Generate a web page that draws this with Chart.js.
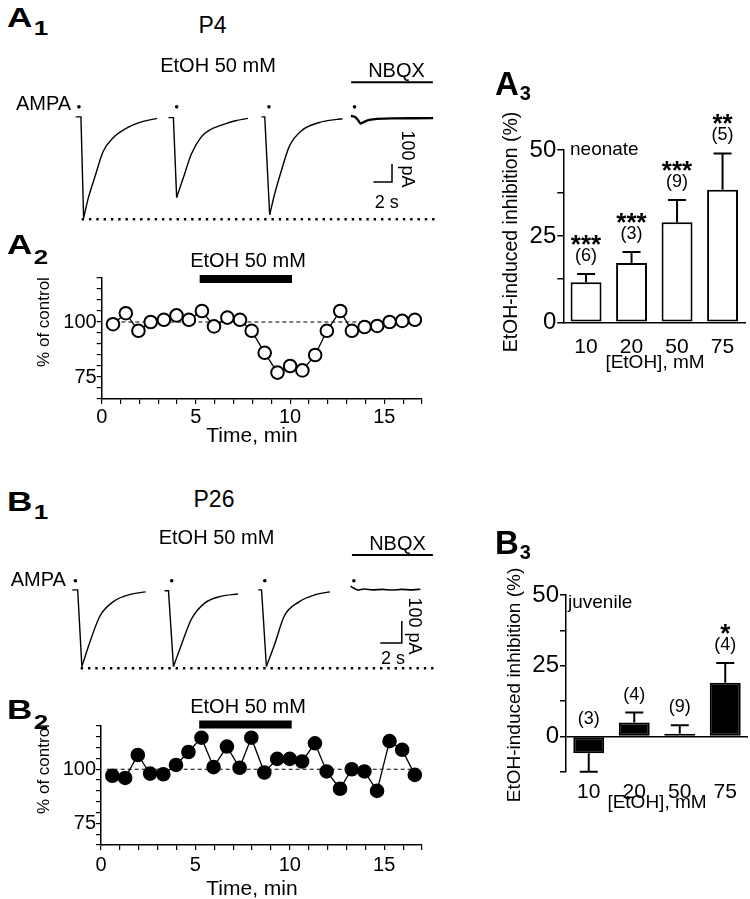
<!DOCTYPE html>
<html><head><meta charset="utf-8">
<script src="https://cdn.jsdelivr.net/npm/chart.js@4/dist/chart.umd.min.js"></script>
<style>
html,body{margin:0;padding:0;background:#fff;}
#page{position:relative;width:750px;height:899px;overflow:hidden;background:#fff;font-family:"Liberation Sans",Arial,Helvetica,sans-serif;color:#000;}
canvas{position:absolute;}
.t{position:absolute;white-space:nowrap;line-height:1;transform:translate(-50%,-50%);}
.pl{position:absolute;font-weight:bold;font-size:27px;line-height:1;white-space:nowrap;transform-origin:0 0;}
.pl sub{font-size:20px;vertical-align:baseline;position:relative;margin-left:1px;}
</style></head>
<body><div id="page">
<canvas id="cA1" width="385" height="195" style="left:60px;top:40px"></canvas>
<canvas id="cB1" width="385" height="150" style="left:60px;top:530px"></canvas>
<canvas id="cA2" width="402" height="180" style="left:30px;top:258px"></canvas>
<canvas id="cB2" width="402" height="193" style="left:30px;top:706px"></canvas>
<canvas id="cA3" width="280" height="290" style="left:470px;top:90px"></canvas>
<canvas id="cB3" width="280" height="290" style="left:470px;top:535px"></canvas>

<div class="pl" style="left:7px;top:4.5px;transform:scaleX(1.3)">A<sub style="top:8px">1</sub></div>
<div class="t" style="left:212.5px;top:25px;font-size:23px">P4</div>
<div class="t" style="left:218px;top:65px;font-size:20px">EtOH 50 mM</div>
<div class="t" style="left:43.5px;top:102.5px;font-size:20px">AMPA</div>
<div class="t" style="left:396.5px;top:70px;font-size:20px">NBQX</div>
<div class="t" style="left:408px;top:159px;font-size:18px;transform:translate(-50%,-50%) rotate(90deg)">100 pA</div>
<div class="t" style="left:386.7px;top:201.7px;font-size:18px">2 s</div>

<div class="pl" style="left:7px;top:488.5px;transform:scaleX(1.3)">B<sub style="top:8px">1</sub></div>
<div class="t" style="left:214px;top:499px;font-size:23px">P26</div>
<div class="t" style="left:216.5px;top:537px;font-size:20px">EtOH 50 mM</div>
<div class="t" style="left:38.3px;top:579px;font-size:20px">AMPA</div>
<div class="t" style="left:397.5px;top:543px;font-size:20px">NBQX</div>
<div class="t" style="left:415px;top:626px;font-size:18px;transform:translate(-50%,-50%) rotate(90deg)">100 pA</div>
<div class="t" style="left:393px;top:658px;font-size:18px">2 s</div>

<div class="pl" style="left:7px;top:231.5px;transform:scaleX(1.3)">A<sub style="top:10px">2</sub></div>
<div class="t" style="left:248px;top:260px;font-size:20px">EtOH 50 mM</div>
<div class="t" style="left:42.5px;top:322px;font-size:17px;transform:translate(-50%,-50%) rotate(-90deg)">% of control</div>
<div class="t" style="left:252px;top:434px;font-size:21px">Time, min</div>

<div class="pl" style="left:7px;top:697px;transform:scaleX(1.3)">B<sub style="top:10px">2</sub></div>
<div class="t" style="left:248px;top:706px;font-size:20px">EtOH 50 mM</div>
<div class="t" style="left:42.5px;top:769px;font-size:17px;transform:translate(-50%,-50%) rotate(-90deg)">% of control</div>
<div class="t" style="left:252px;top:887px;font-size:21px">Time, min</div>

<div class="pl" style="left:495px;top:67px;font-size:33px">A<sub style="top:5px">3</sub></div>
<div class="t" style="left:511px;top:232px;font-size:19.5px;transform:translate(-50%,-50%) rotate(-90deg)">EtOH-induced inhibition (%)</div>
<div class="t" style="left:570px;top:147.5px;font-size:19px;transform:translate(0,-50%)">neonate</div>
<div class="t" style="left:655px;top:361px;font-size:19px">[EtOH], mM</div>

<div class="pl" style="left:495px;top:526px;font-size:33px">B<sub style="top:5px">3</sub></div>
<div class="t" style="left:512.5px;top:685px;font-size:19px;transform:translate(-50%,-50%) rotate(-90deg)">EtOH-induced inhibition (%)</div>
<div class="t" style="left:568px;top:601px;font-size:19px;transform:translate(0,-50%)">juvenile</div>
<div class="t" style="left:657px;top:801px;font-size:19px">[EtOH], mM</div>
</div>
<script>
// ---------- data ----------
// A1 (P4) current sweeps: [time s, current pA]
const a1Sweep1 = [[1.26,0],[1.82,0],[2.11,-553],[2.63,-442],[3.34,-326],[4.21,-190],[5.26,-116],[7.05,-53],[8.42,-26],[10.0,-8]];
const a1Sweep2 = [[11.23,-4],[11.76,-4],[12.11,-442],[12.81,-337],[13.68,-205],[14.74,-111],[15.79,-68],[16.84,-47],[18.42,-21],[19.79,-8]];
const a1Sweep3 = [[21.23,0],[21.58,0],[22.11,-537],[22.63,-426],[23.34,-300],[24.21,-163],[25.58,-74],[27.37,-32],[29.65,-12],[29.95,-11]];
const a1Nbqx   = [[30.84,5],[31.26,0],[31.58,-16],[31.89,-37],[32.32,-26],[32.84,-16],[33.68,-11],[35.26,-8],[39.68,-7]];
const a1Stim   = [1.61,12.11,22.03,31.23];
// B1 (P26) current sweeps
const b1Sweep1 = [[0.76,0],[1.27,0],[1.66,-352],[2.43,-236],[3.34,-120],[4.55,-55],[6.06,-22],[7.57,-9]];
const b1Sweep2 = [[9.34,-4],[9.70,-4],[10.16,-352],[10.91,-251],[11.82,-135],[13.03,-62],[14.55,-30],[16.15,-19]];
const b1Sweep3 = [[18.03,0],[18.34,0],[18.79,-352],[19.55,-251],[20.45,-120],[21.82,-55],[23.34,-22],[24.70,-9]];
const b1Nbqx   = [[26.61,17],[26.82,10],[27.27,-1],[27.82,4],[28.64,0],[29.55,2],[30.45,-1],[31.36,2],[32.27,0],[33.09,3]];
const b1Stim   = [1.06,10.0,18.64,26.91];
const scaleBarSec = 2, scaleBarPA = 100;

// A2 / B2 time courses
const timeMin = [0.6,1.28,1.95,2.6,3.3,3.97,4.63,5.32,5.96,6.67,7.34,7.96,8.65,9.33,10.0,10.65,11.33,11.95,12.66,13.28,13.95,14.62,15.28,15.95,16.62];
const pctA2 = [99,104,96,100,101,103,101,105,98,102,101,96,86,77,80,78,85,96,105,96,97.7,98.2,100,100.5,101];
const pctB2 = [97,96,106.6,98,97.7,102,108,114.6,101,110.5,100.7,114.6,98.5,104.8,104.8,103.6,112,99,91,100,99,90,113,109,97.4];
const etohWindow = [5.2,10.1];

// A3 / B3 bar charts
const concLabels = ['10','20','50','75'];
const inhibA3 = [11.6,17.2,29,38.5];
const semA3   = [2.4,3.2,6.5,10.5];
const starsA3 = ['***','***','***','**'];
const nA3     = ['(6)','(3)','(9)','(5)'];
const inhibB3 = [-5.9,5,1,19];
const semB3   = [6.5,3.5,3,7];
const starsB3 = ['','','','*'];
const nB3     = ['(3)','(4)','(9)','(4)'];

// ---------- drawing ----------
const FONT = '"Liberation Sans", Arial, sans-serif';
Chart.defaults.font.family = FONT;
Chart.defaults.color = '#000';
const base = {responsive:false, maintainAspectRatio:false, animation:false, events:[],
  plugins:{legend:{display:false}, tooltip:{enabled:false}}};

const pts = arr => arr.map(p => ({x:p[0], y:p[1]}));
function sweepSets(sw, width) {
  let k = 0; sw.forEach((p,i)=>{ if (p[1] < sw[k][1]) k = i; });
  return [
    {data:pts(sw.slice(0,k+1)), showLine:true, borderColor:'#000', borderWidth:width, pointRadius:0, tension:0},
    {data:pts(sw.slice(k)), showLine:true, borderColor:'#000', borderWidth:width, pointRadius:0, cubicInterpolationMode:'monotone'}
  ];
}
function traceChart(id, cfg) {
  const ds = [];
  cfg.sweeps.forEach(s => ds.push(...sweepSets(s, 1.4)));
  ds.push({data:pts(cfg.nbqx), showLine:true, borderColor:'#000', borderWidth:cfg.nbqxW, pointRadius:0, tension:0.2});
  ds.push({data:cfg.stim.map(t=>({x:t, y:cfg.stimY})), showLine:false, pointRadius:1.8, pointBackgroundColor:'#000', pointBorderWidth:0});
  ds.push({data:[{x:cfg.dotted[0], y:cfg.peakLine},{x:cfg.dotted[1], y:cfg.peakLine}], showLine:true, borderColor:'#000', borderWidth:2.4, borderDash:[2.4,4.9], pointRadius:0});
  ds.push({data:[{x:cfg.nbqxBar[0], y:cfg.nbqxBarY},{x:cfg.nbqxBar[1], y:cfg.nbqxBarY}], showLine:true, borderColor:'#000', borderWidth:2, pointRadius:0});
  const c = cfg.sbCorner;
  ds.push({data:[{x:c[0]-scaleBarSec, y:c[1]},{x:c[0], y:c[1]},{x:c[0], y:c[1]+scaleBarPA}], showLine:true, borderColor:'#000', borderWidth:1.5, pointRadius:0});
  new Chart(document.getElementById(id), {type:'scatter', data:{datasets:ds},
    options:{...base, layout:{padding:0},
      scales:{x:{type:'linear', display:false, min:0, max:cfg.xMax},
              y:{type:'linear', display:false, min:cfg.yMin, max:cfg.yMax}}}});
}
traceChart('cA1', {sweeps:[a1Sweep1,a1Sweep2,a1Sweep3], nbqx:a1Nbqx, nbqxW:2.4, stim:a1Stim, stimY:55,
  dotted:[1.9,40.0], peakLine:-562, nbqxBar:[30.87,39.65], nbqxBarY:190, sbCorner:[35.26,-358],
  xMax:385/9.5, yMin:-626.3, yMax:400});
traceChart('cB1', {sweeps:[b1Sweep1,b1Sweep2,b1Sweep3], nbqx:b1Nbqx, nbqxW:1.6, stim:b1Stim, stimY:42,
  dotted:[1.55,34.55], peakLine:-360, nbqxBar:[26.73,34.25], nbqxBarY:160, sbCorner:[31.36,-243.5],
  xMax:35, yMin:-395.6, yMax:256.5});

function timeCourse(id, vals, filled, yW, xH, barY, tickPad) {
  const ds = [
    {data:timeMin.map((t,i)=>({x:t, y:vals[i]})), showLine:true, borderColor:'#000', borderWidth:1.3,
     pointRadius:6.3, pointBorderWidth:2, pointBorderColor:'#000', pointBackgroundColor: filled ? '#000' : '#fff'},
    {data:[{x:0.3,y:100},{x:17,y:100}], showLine:true, borderColor:'#000', borderWidth:1.2, borderDash:[4,3], pointRadius:0},
    {data:[{x:etohWindow[0],y:barY},{x:etohWindow[1],y:barY}], showLine:true, borderColor:'#000', borderWidth:8, borderCapStyle:'butt', pointRadius:0, clip:false}
  ];
  const axisCommon = {border:{display:true, color:'#000', width:1.5},
    grid:{drawOnChartArea:false, drawTicks:true, tickLength:5, color:'#000', lineWidth:1.2}};
  new Chart(document.getElementById(id), {type:'scatter', data:{datasets:ds},
    options:{...base, layout:{padding:{top:20, right:10, left:0, bottom:0}},
      scales:{
        x:{type:'linear', min:0, max:17, ...axisCommon, afterFit(s){ s.height = xH; },
           ticks:{stepSize:1, autoSkip:false, maxRotation:0, padding:tickPad, font:{size:20},
                  callback:v => (v % 5 === 0) ? String(v) : ''}},
        y:{type:'linear', min:65, max:120, ...axisCommon, afterFit(s){ s.width = yW; },
           ticks:{stepSize:5, autoSkip:false, padding:0, font:{size:20},
                  callback:v => (v === 75 || v === 100) ? String(v) : ''}}
      }}});
}
timeCourse('cA2', pctA2, false, 71.7, 39, 119.5, 1);
timeCourse('cB2', pctB2, true, 71, 54, 120.7, 3);

const errPlugin = {
  id:'errbars',
  afterDatasetsDraw(chart, args, o) {
    if (!o || !o.err) return;
    const ctx = chart.ctx, ys = chart.scales.y, meta = chart.getDatasetMeta(0);
    const vals = chart.data.datasets[0].data;
    ctx.save();
    ctx.strokeStyle = '#000'; ctx.fillStyle = '#000'; ctx.lineWidth = 2;
    ctx.textAlign = 'center'; ctx.textBaseline = 'alphabetic';
    meta.data.forEach((bar, i) => {
      const v = vals[i], tip = v >= 0 ? v + o.err[i] : v - o.err[i];
      const x = bar.x, y0 = ys.getPixelForValue(v), y1 = ys.getPixelForValue(tip);
      ctx.beginPath(); ctx.moveTo(x, y0); ctx.lineTo(x, y1);
      ctx.moveTo(x - o.cap/2, y1); ctx.lineTo(x + o.cap/2, y1); ctx.stroke();
      const top = v >= 0 ? y1 : ys.getPixelForValue(0);
      ctx.font = '18px ' + FONT; ctx.fillText(o.n[i], x, top - 13);
      if (o.stars[i]) { ctx.font = 'bold 26px ' + FONT; ctx.fillText(o.stars[i], x, top - 21); }
    });
    ctx.restore();
  }
};
function barChart(id, vals, err, stars, n, filled, yMin, yW, xH, padR, labPad) {
  new Chart(document.getElementById(id), {type:'bar', plugins:[errPlugin],
    data:{labels:concLabels, datasets:[{data:vals, backgroundColor: filled ? '#000' : '#fff', borderColor:'#000',
      borderWidth:2, borderSkipped:false, barPercentage:0.68, categoryPercentage:1}]},
    options:{...base, layout:{padding:{top:60, right:padR, left:0, bottom:0}},
      plugins:{...base.plugins, errbars:{err, stars, n, cap:18}},
      scales:{
        x:{grid:{display:false}, border:{display: yMin === 0, color:'#000', width:1.5}, afterFit(s){ s.height = xH; },
           ticks:{padding:labPad, font:{size:21}, maxRotation:0}},
        y:{min:yMin, max:50, afterFit(s){ s.width = yW; },
           border:{display:true, color:'#000', width:1.5},
           grid:{drawOnChartArea: yMin < 0, drawTicks:true, tickLength:6, tickColor:'#000', lineWidth:1.5,
                 color: c => (c.tick && c.tick.value === 0) ? '#000' : 'rgba(0,0,0,0)'},
           ticks:{stepSize:12.5, autoSkip:false, padding:1, font:{size:24},
                  callback:v => (v % 25 === 0) ? String(v) : ''}}
      }}});
}
barChart('cA3', inhibA3, semA3, starsA3, nA3, false, 0, 93.3, 57.7, 4.7, 4);
barChart('cB3', inhibB3, semB3, starsB3, nB3, true, -12.5, 96, 53, 2, 0);
</script>
</body></html>
